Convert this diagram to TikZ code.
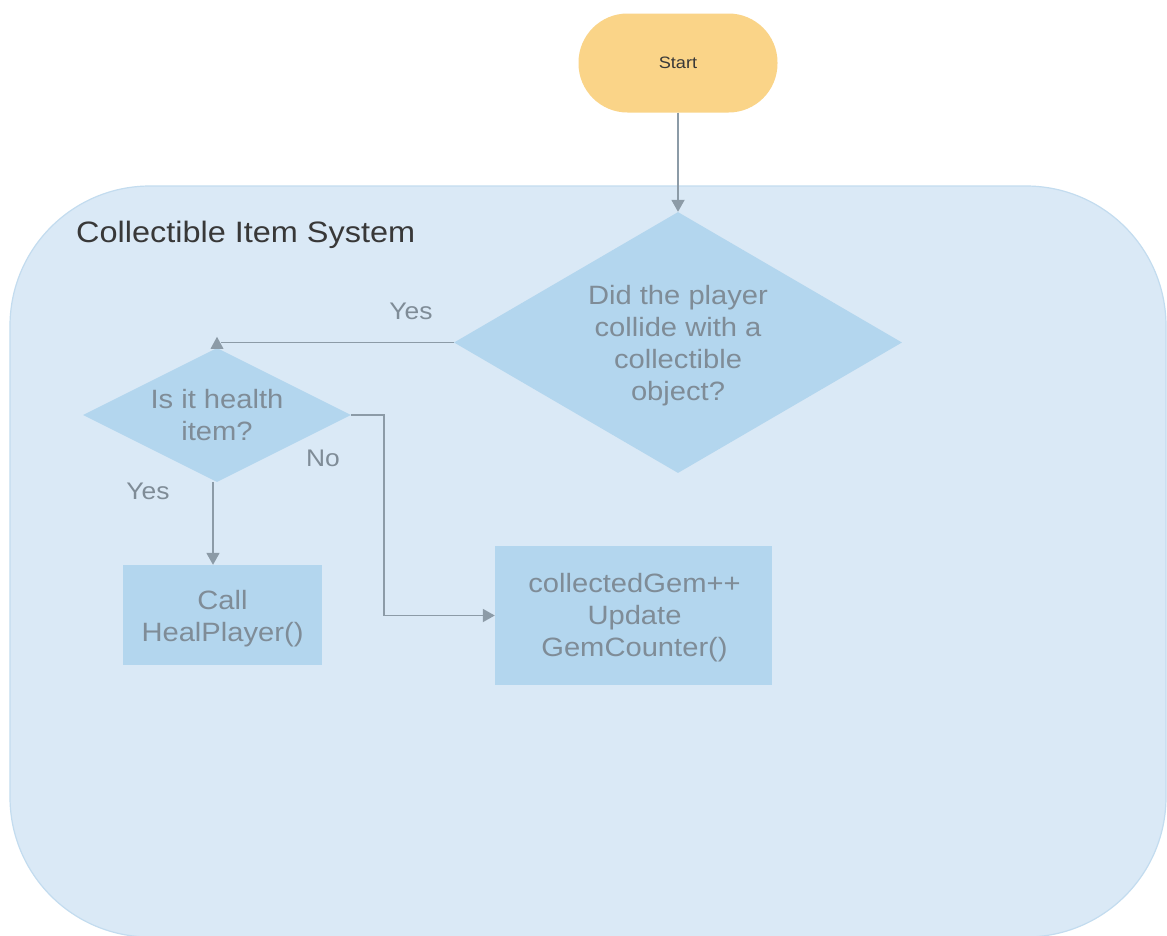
\documentclass[tikz,border=0pt]{standalone}
\usepackage{fontspec}
\setmainfont{Liberation Sans}[FakeStretch=1.1]
\usetikzlibrary{arrows.meta,shapes.geometric}
\definecolor{contfill}{HTML}{DAE9F6}
\definecolor{contdraw}{HTML}{C3DCEF}
\definecolor{shapefill}{HTML}{B3D6EE}
\definecolor{txtgray}{HTML}{7F8C97}
\definecolor{arrowgray}{HTML}{8C9BA7}
\definecolor{startfill}{HTML}{FAD488}
\definecolor{darktxt}{HTML}{383838}
\tikzset{
  container/.style={fill=contfill, draw=contdraw, line width=1.2pt, rounded corners=140pt},
  startbox/.style={rectangle, rounded corners=49pt, fill=startfill, draw=none,
    minimum width=199pt, minimum height=99pt, inner sep=0pt,
    text=darktxt, font=\fontsize{16.5}{20}\selectfont},
  decision/.style={diamond, fill=shapefill, draw=none, inner sep=0pt},
  procbox/.style={rectangle, fill=shapefill, draw=none, inner sep=0pt},
  bodytext/.style={align=center, text=txtgray, font=\fontsize{26.5}{32}\selectfont, inner sep=0pt},
  lbl/.style={text=txtgray, font=\fontsize{24}{28}\selectfont, inner sep=0pt},
  conn/.style={draw=arrowgray, line width=1.8pt, -{Triangle[length=12pt,width=13pt]}},
  plainconn/.style={draw=arrowgray, line width=1.8pt},
}
\begin{document}
\begin{tikzpicture}[x=1pt,y=-1pt]
\useasboundingbox (0,0) rectangle (1167,935);
\fill[white] (0,0) rectangle (1167,935);
% container
\draw[container] (10,186) rectangle (1166,937);
\node[anchor=west, text=darktxt, font=\fontsize{29.5}{34}\selectfont, inner sep=0pt] (title) at (76,235) {Collectible Item System};
% start
\node[startbox] (start) at (678,63) {Start};
% big decision
\node[decision, minimum width=448pt, minimum height=261pt, aspect=1.716] (big) at (678,342.5) {};
\node[bodytext] (bigtxt) at ([yshift=-3pt]big.center) {Did the player\\collide with a\\collectible\\object?};
% small decision
\node[decision, minimum width=268pt, minimum height=134pt, aspect=2] (small) at (217,415) {};
\node[bodytext] (smalltxt) at ([yshift=-0.5pt]small.center) {Is it health\\item?};
% boxes
\node[procbox, minimum width=199pt, minimum height=100pt] (call) at (222.5,615) {};
\node[bodytext] (calltxt) at ([yshift=-4pt]call.center) {Call\\HealPlayer()};
\node[procbox, minimum width=277pt, minimum height=139pt] (gem) at (633.5,615.5) {};
\node[bodytext] (gemtxt) at ([shift={(1pt,-2pt)}]gem.center) {collectedGem++\\Update\\GemCounter()};
% connectors
\draw[conn] (start.south) -- (big.north);
\draw[plainconn] (big.west) -- ([xshift=4pt]small.north |- big.west);
\fill[arrowgray] ([shift={(-6.5,1)}]small.north) -- ([shift={(6.5,1)}]small.north) -- ([shift={(0,-11)}]small.north) -- cycle;
\draw[conn] (small.east) -- ++(33,0) |- (gem.west);
\draw[conn] ([xshift=-4pt]small.south) -- ([xshift=-4pt]small.south |- call.north);
% labels
\node[lbl] (yes1) at (411,311) {Yes};
\node[lbl] (no1) at (323,458) {No};
\node[lbl] (yes2) at (148,491) {Yes};
\end{tikzpicture}
\end{document}
